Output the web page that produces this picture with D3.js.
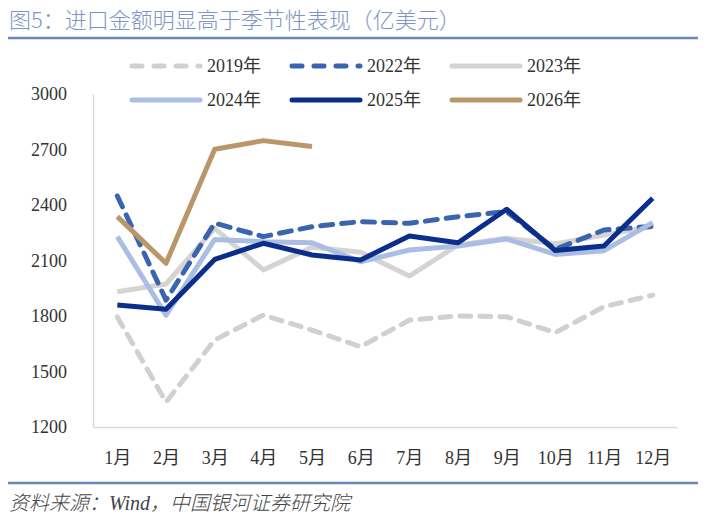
<!DOCTYPE html>
<html>
<head>
<meta charset="utf-8">
<script src="https://cdn.jsdelivr.net/npm/d3@7"></script>
<style>
  body { margin: 0; background: #fff; }
  svg { display: block; }
</style>
</head>
<body>
<div id="chart"></div>
<script>
const months = ["1月", "2月", "3月", "4月", "5月", "6月", "7月", "8月", "9月", "10月", "11月", "12月"];
const yTicks = [1200, 1500, 1800, 2100, 2400, 2700, 3000];

const v2019 = [1795, 1335, 1670, 1805, 1724, 1634, 1778, 1800, 1796, 1710, 1850, 1913];
const v2022 = [2449, 1886, 2302, 2229, 2283, 2310, 2301, 2337, 2364, 2160, 2265, 2285];
const v2023 = [1931, 1973, 2274, 2049, 2172, 2145, 2016, 2184, 2220, 2190, 2238, 2283];
const v2024 = [2229, 1805, 2214, 2202, 2196, 2093, 2157, 2178, 2216, 2133, 2153, 2305];
const v2025 = [1859, 1836, 2106, 2193, 2130, 2103, 2232, 2196, 2377, 2154, 2178, 2436];
const v2026 = [2337, 2085, 2701, 2748, 2716];

const series = [
  { name: "2019年", values: v2019, color: "#d0d0d0", dash: "11,9" },
  { name: "2023年", values: v2023, color: "#d4d4d4", dash: null },
  { name: "2022年", values: v2022, color: "#3b64ae", dash: "12,9" },
  { name: "2024年", values: v2024, color: "#a9bde5", dash: null },
  { name: "2025年", values: v2025, color: "#0b2e8b", dash: null },
  { name: "2026年", values: v2026, color: "#b9976a", dash: null }
];
const legendOrder = ["2019年", "2022年", "2023年", "2024年", "2025年", "2026年"];

const width = 707, height = 529;
const plot = { left: 93, right: 677, top: 94, bottom: 427 };
const serif = "'Liberation Serif', 'Noto Sans CJK SC', serif";

const svg = d3.select("#chart").append("svg")
  .attr("width", width)
  .attr("height", height);

// title
svg.append("text")
  .attr("x", 9).attr("y", 28)
  .attr("fill", "#7d94c6")
  .style("font-family", "'Noto Sans CJK SC', sans-serif")
  .style("font-weight", 300)
  .style("font-size", "22px")
  .text("图5：进口金额明显高于季节性表现（亿美元）");

svg.append("line")
  .attr("x1", 8).attr("x2", 698).attr("y1", 38).attr("y2", 38)
  .attr("stroke", "#6b86b9").attr("stroke-width", 2.5);

svg.append("line")
  .attr("x1", 8).attr("x2", 698).attr("y1", 483).attr("y2", 483)
  .attr("stroke", "#6b86b9").attr("stroke-width", 2.5);

svg.append("text")
  .attr("x", 9).attr("y", 510)
  .attr("fill", "#444")
  .style("font-family", serif)
  .style("font-style", "italic")
  .style("font-weight", 300)
  .style("font-size", "20px")
  .text("资料来源：Wind，中国银河证券研究院");

const x = d3.scalePoint().domain(months).range([plot.left, plot.right]).padding(0.5);
const y = d3.scaleLinear().domain([1200, 3000]).range([plot.bottom, plot.top]);

// axes
const yAxis = svg.append("g")
  .attr("transform", `translate(${plot.left},0)`)
  .call(d3.axisLeft(y).tickValues(yTicks).tickFormat(d3.format("d")).tickSize(0).tickPadding(26));
yAxis.select(".domain").attr("stroke", "#d9d9d9").attr("stroke-width", 1.5);

const xAxis = svg.append("g")
  .attr("transform", `translate(0,${plot.bottom})`)
  .call(d3.axisBottom(x).tickSize(0).tickPadding(24));
xAxis.select(".domain").attr("stroke", "#d9d9d9").attr("stroke-width", 1.5);

svg.selectAll(".tick text")
  .attr("fill", "#333")
  .style("font-family", serif)
  .style("font-size", "18px");

// lines
const line = d3.line()
  .x((d, i) => x(months[i]))
  .y(d => y(d));

svg.append("g").selectAll("path")
  .data(series)
  .join("path")
  .attr("d", d => line(d.values))
  .attr("fill", "none")
  .attr("stroke", d => d.color)
  .attr("stroke-width", 5)
  .attr("stroke-linejoin", "round")
  .attr("stroke-linecap", d => d.dash ? "round" : "butt")
  .attr("stroke-dasharray", d => d.dash);

// legend
const legend = svg.append("g");
legendOrder.forEach((name, i) => {
  const s = series.find(d => d.name === name);
  const col = i % 3, row = Math.floor(i / 3);
  const lx = 132 + col * 160, ly = 66 + row * 34;
  legend.append("line")
    .attr("x1", lx).attr("x2", lx + 68).attr("y1", ly).attr("y2", ly)
    .attr("stroke", s.color)
    .attr("stroke-width", 5)
    .attr("stroke-linecap", "round")
    .attr("stroke-dasharray", s.dash ? "10,12" : null);
  legend.append("text")
    .attr("x", lx + 75).attr("y", ly + 6)
    .attr("fill", "#333")
    .style("font-family", serif)
    .style("font-size", "18px")
    .text(name);
});
</script>
</body>
</html>
